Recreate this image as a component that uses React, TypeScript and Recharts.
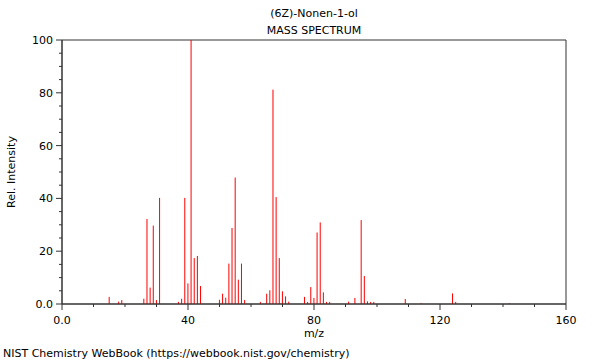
import { ComposedChart, Bar, XAxis, YAxis, ReferenceArea } from "recharts";

const MZ = [
  15, 18, 19, 26, 27, 28, 29, 30, 31, 37, 38, 39, 40, 41, 42, 43, 44, 50, 51, 52, 53, 54, 55, 56, 57, 58,
  63, 65, 66, 67, 68, 69, 70, 71, 72, 77, 78, 79, 80, 81, 82, 83, 84, 85, 91, 93, 95, 96, 97, 98, 99,
  109, 114, 124, 125, 142,
];
const INTENSITY = [
  2.7, 0.9, 1.5, 2.0, 32.2, 6.2, 29.7, 1.5, 40.2, 0.8, 2.0, 40.2, 7.8, 100, 17.4, 18.2, 6.8, 1.6, 3.9, 2.4, 15.3, 28.8, 47.9, 9.2, 15.3, 1.5,
  0.8, 3.9, 5.2, 81.2, 40.5, 17.4, 4.8, 2.9, 0.9, 2.7, 0.8, 6.4, 2.3, 27.1, 30.9, 4.4, 0.8, 0.8, 0.9, 2.3, 31.8, 10.6, 1.0, 0.8, 0.8,
  1.9, 0.3, 4.0, 0.8, 0.3,
];
const X_TICKS = [0, 10, 20, 30, 40, 50, 60, 70, 80, 90, 100, 110, 120, 130, 140, 150, 160];
const Y_TICKS = [0, 5, 10, 15, 20, 25, 30, 35, 40, 45, 50, 55, 60, 65, 70, 75, 80, 85, 90, 95, 100];

const data = MZ.map((m, i) => ({ mz: m, value: INTENSITY[i] }));

const FONT = "'DejaVu Sans', sans-serif";
const AXIS = "#333";

function XTick({ x, y, payload }: any) {
  const v = payload.value;
  const major = v % 40 === 0;
  return (
    <g>
      <line x1={x} x2={x} y1={y} y2={y + (major ? 6 : 3)} stroke={AXIS} />
      {major && (
        <text x={x} y={y + 20} textAnchor="middle" fontSize={11} fontFamily={FONT} fill="#000">
          {v === 0 ? "0.0" : v}
        </text>
      )}
    </g>
  );
}

function YTick({ x, y, payload }: any) {
  const v = payload.value;
  const major = v % 20 === 0;
  return (
    <g>
      <line x1={x - (major ? 6 : 3)} x2={x} y1={y} y2={y} stroke={AXIS} />
      {major && (
        <text x={x - 9} y={y + 4} textAnchor="end" fontSize={11} fontFamily={FONT} fill="#000">
          {v === 0 ? "0.0" : v}
        </text>
      )}
    </g>
  );
}

function Peak({ x, y, width, height }: any) {
  if (height == null || height <= 0) return null;
  const cx = x + width / 2;
  return <rect x={cx - 0.5} y={y} width={1} height={height} fill="#ff0000" />;
}

export default function App() {
  return (
    <div style={{ position: "absolute", left: 0, top: 0, width: 600, height: 360, background: "#fff", fontFamily: FONT }}>
      <ComposedChart width={600} height={360} data={data} margin={{ top: 40, right: 34, bottom: 26, left: 0 }}>
        <XAxis
          dataKey="mz"
          type="number"
          domain={[0, 160]}
          ticks={X_TICKS}
          interval={0}
          height={30}
          tickSize={0}
          tickMargin={0}
          tickLine={false}
          tick={<XTick />}
          stroke={AXIS}
          allowDataOverflow
        />
        <YAxis
          type="number"
          domain={[0, 100]}
          ticks={Y_TICKS}
          interval={0}
          width={62}
          tickSize={0}
          tickMargin={0}
          tickLine={false}
          tick={<YTick />}
          stroke={AXIS}
        />
        <ReferenceArea x1={0} x2={160} y1={0} y2={100} fill="none" stroke={AXIS} strokeOpacity={1} fillOpacity={0} />
        <Bar dataKey="value" barSize={1} shape={<Peak />} isAnimationActive={false} />
      </ComposedChart>
      <svg width={600} height={360} style={{ position: "absolute", left: 0, top: 0, pointerEvents: "none" }}>
        <text x={314} y={17} textAnchor="middle" fontSize={11} fontFamily={FONT} fill="#000">(6Z)-Nonen-1-ol</text>
        <text x={314} y={34} textAnchor="middle" fontSize={11} fontFamily={FONT} fill="#000">MASS SPECTRUM</text>
        <text x={314} y={337} textAnchor="middle" fontSize={11} fontFamily={FONT} fill="#000">m/z</text>
        <text transform="translate(15,172) rotate(-90)" textAnchor="middle" fontSize={11} fontFamily={FONT} fill="#000">Rel. Intensity</text>
        <text x={3} y={357} fontSize={11} fontFamily={FONT} fill="#000">NIST Chemistry WebBook (https://webbook.nist.gov/chemistry)</text>
      </svg>
    </div>
  );
}
